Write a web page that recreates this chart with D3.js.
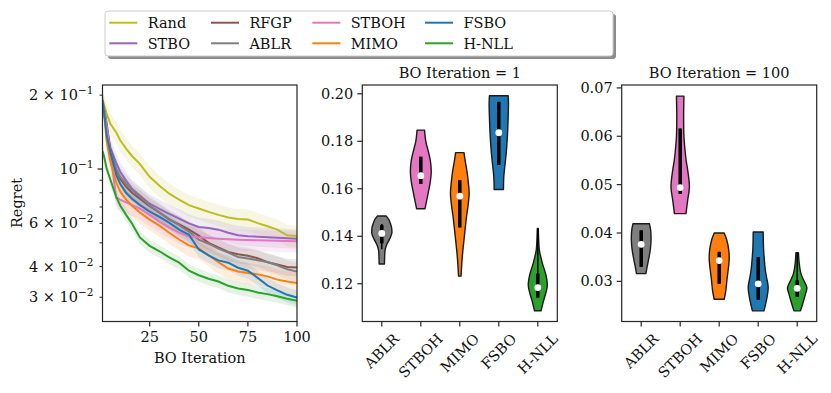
<!DOCTYPE html>
<html><head><meta charset="utf-8">
<script src="https://cdn.jsdelivr.net/npm/d3@7"></script>
<style>
body{margin:0;background:#fff}
svg text{font-family:"DejaVu Serif",serif;fill:#111}
</style></head>
<body><svg id="c" width="831" height="393"></svg>
<script>
// ---------------- DATA ----------------
const methods = ["Rand","STBO","RFGP","ABLR","STBOH","MIMO","FSBO","H-NLL"];
const colors  = ["#bcbd22","#9467bd","#8c564b","#7f7f7f","#e377c2","#ff7f0e","#1f77b4","#2ca02c"];
const iters = [1,2,3,5,8,10,13,16,20,25,30,35,40,45,50,55,60,65,70,75,80,85,90,95,100];
const regretRand  = [0.19,0.18,0.169,0.153,0.141,0.131,0.121,0.113,0.105,0.093,0.0855,0.0793,0.075,0.0712,0.069,0.0669,0.065,0.0634,0.0625,0.0622,0.0602,0.0584,0.0566,0.0537,0.0533];
const regretSTBO  = [0.19,0.165,0.1445,0.122,0.106,0.0975,0.0897,0.083,0.078,0.0722,0.0688,0.0656,0.0628,0.06,0.058,0.0575,0.0566,0.055,0.0537,0.0532,0.053,0.0527,0.0525,0.0522,0.052];
const regretRFGP  = [0.19,0.172,0.155,0.12,0.099,0.0913,0.0847,0.08,0.0757,0.0706,0.0665,0.0622,0.0594,0.0566,0.0535,0.05,0.0479,0.0459,0.0449,0.0443,0.0433,0.0417,0.0408,0.0399,0.0397];
const regretABLR  = [0.19,0.17,0.15,0.118,0.1,0.093,0.087,0.082,0.077,0.071,0.0665,0.0625,0.059,0.0555,0.0515,0.0496,0.0474,0.0456,0.0438,0.0432,0.0425,0.0418,0.0405,0.039,0.0382];
const regretSTBOH = [0.19,0.17,0.15,0.115,0.0765,0.075,0.0731,0.0714,0.069,0.065,0.061,0.0577,0.055,0.0532,0.0527,0.0523,0.052,0.0517,0.0515,0.0513,0.0512,0.0511,0.051,0.0509,0.0508];
const regretMIMO  = [0.19,0.165,0.1315,0.107,0.088,0.081,0.075,0.0708,0.0665,0.0622,0.0588,0.055,0.0516,0.0488,0.0475,0.0445,0.0417,0.0393,0.0382,0.0377,0.0372,0.0365,0.0354,0.0348,0.0343];
const regretFSBO  = [0.19,0.166,0.139,0.117,0.0947,0.0871,0.08,0.0757,0.0713,0.0671,0.0638,0.0604,0.0566,0.054,0.047,0.0445,0.0424,0.0415,0.0396,0.0385,0.036,0.0335,0.032,0.0307,0.0299];
const regretHNLL  = [0.118,0.111,0.1012,0.0905,0.077,0.071,0.065,0.06,0.0526,0.0486,0.0462,0.0436,0.0415,0.0385,0.0369,0.0357,0.0348,0.0334,0.0326,0.0321,0.0314,0.0309,0.0303,0.0296,0.029];
const regretSeries = [regretRand,regretSTBO,regretRFGP,regretABLR,regretSTBOH,regretMIMO,regretFSBO,regretHNLL];
const bandSpread = [0.10,0.09,0.08,0.09,0.10,0.10,0.07,0.06];

const violinMethods = ["ABLR","STBOH","MIMO","FSBO","H-NLL"];
const violinColors  = ["#7f7f7f","#e377c2","#ff7f0e","#1f77b4","#2ca02c"];
// violin profiles: [regret value, relative density]
const violinIter1 = [
  [[0.1485,0.29],[0.147,0.45],[0.1454,0.55],[0.1435,0.63],[0.1412,0.64],[0.139,0.51],[0.1365,0.32],[0.1342,0.21],[0.131,0.18],[0.1283,0.17]],
  [[0.1847,0.24],[0.18,0.32],[0.1763,0.46],[0.172,0.61],[0.1672,0.67],[0.163,0.61],[0.1594,0.51],[0.1552,0.38],[0.1516,0.27]],
  [[0.1752,0.27],[0.1715,0.35],[0.1678,0.45],[0.163,0.54],[0.158,0.6],[0.153,0.53],[0.1482,0.43],[0.1398,0.29],[0.1314,0.16],[0.1232,0.08]],
  [[0.1992,0.6],[0.196,0.62],[0.19,0.6],[0.1833,0.56],[0.177,0.5],[0.172,0.43],[0.165,0.32],[0.1597,0.3]],
  [[0.1433,0.03],[0.138,0.06],[0.1342,0.1],[0.1285,0.3],[0.124,0.51],[0.1194,0.61],[0.116,0.51],[0.1131,0.38],[0.1086,0.21]]
];
const violinIter100 = [
  [[0.0419,0.53],[0.0405,0.61],[0.0385,0.63],[0.0365,0.58],[0.0343,0.46],[0.033,0.38],[0.0316,0.3]],
  [[0.0683,0.24],[0.064,0.22],[0.06,0.24],[0.0571,0.31],[0.055,0.38],[0.053,0.48],[0.0495,0.59],[0.0468,0.48],[0.044,0.37]],
  [[0.04,0.32],[0.0386,0.48],[0.0365,0.61],[0.0345,0.64],[0.0325,0.58],[0.0304,0.5],[0.028,0.42],[0.0263,0.32]],
  [[0.0402,0.32],[0.037,0.34],[0.035,0.38],[0.0325,0.45],[0.0309,0.53],[0.0288,0.64],[0.0261,0.53],[0.0239,0.37]],
  [[0.0359,0.08],[0.0337,0.13],[0.0316,0.24],[0.0302,0.42],[0.0287,0.62],[0.0275,0.54],[0.0261,0.42],[0.0239,0.21]]
];
// box stats: [whiskerLow, q1, median, q3, whiskerHigh]
const statsIter1 = [
  [0.1345,0.137,0.1412,0.1447,0.1452],
  [0.162,0.162,0.1655,0.1735,0.1735],
  [0.1437,0.1437,0.1569,0.1636,0.1636],
  [0.170,0.170,0.1836,0.1966,0.1966],
  [0.1142,0.1142,0.1184,0.1243,0.1433]
];
const statsIter100 = [
  [0.033,0.033,0.03765,0.04055,0.04055],
  [0.0481,0.0481,0.0494,0.0616,0.0616],
  [0.0295,0.0295,0.0343,0.0361,0.0361],
  [0.0262,0.0262,0.0295,0.035,0.035],
  [0.0268,0.0268,0.02855,0.0302,0.0359]
];
const leftXTicks = [25,50,75,100];
const leftYTicksMajor = [0.1];
const leftYTicksMinor = [0.03,0.04,0.05,0.06,0.07,0.08,0.09,0.2];
const leftYLabels = [[0.2,"2 × 10","−1"],[0.1,"10","−1"],[0.06,"6 × 10","−2"],[0.04,"4 × 10","−2"],[0.03,"3 × 10","−2"]];
const midYTicks = [0.12,0.14,0.16,0.18,0.20];
const rightYTicks = [0.03,0.04,0.05,0.06,0.07];

// ---------------- LAYOUT ----------------
const svg = d3.select("#c");
const yTop = 85, yBot = 321.5;
const FS = 14.5;

const xL = d3.scaleLinear([1,100],[102.5,297]);
const yL = d3.scaleLog([0.0239,0.22],[yBot,yTop]);
const xM = d3.scaleLinear([0.5,5.5],[362.3,557.3]);
const yM = d3.scaleLinear([0.1041,0.2037],[yBot,yTop]);
const xR = d3.scaleLinear([0.5,5.5],[621.7,816.7]);
const yR = d3.scaleLinear([0.0217,0.0706],[yBot,yTop]);

// ---------------- LEFT PANEL ----------------
const gL = svg.append("g");
gL.append("clipPath").attr("id","clipL").append("rect")
  .attr("x",xL.range()[0]).attr("y",yTop).attr("width",xL.range()[1]-xL.range()[0]).attr("height",yBot-yTop);
const plotL = gL.append("g").attr("clip-path","url(#clipL)");
regretSeries.forEach((s,k)=>{
  const pts = iters.map((it,i)=>({x:it,v:s[i]}));
  const area = d3.area().x(d=>xL(d.x)).y0(d=>yL(d.v*(1-bandSpread[k]))).y1(d=>yL(d.v*(1+bandSpread[k])));
  plotL.append("path").attr("d",area(pts)).attr("fill",colors[k]).attr("opacity",0.13);
});
regretSeries.forEach((s,k)=>{
  const pts = iters.map((it,i)=>({x:it,v:s[i]}));
  const line = d3.line().x(d=>xL(d.x)).y(d=>yL(d.v));
  plotL.append("path").attr("d",line(pts)).attr("fill","none").attr("stroke",colors[k]).attr("stroke-width",2);
});
const axisColor = "#262626";
function frame(g,x0,x1){
  g.append("rect").attr("x",x0).attr("y",yTop).attr("width",x1-x0).attr("height",yBot-yTop)
   .attr("fill","none").attr("stroke",axisColor).attr("stroke-width",1.2);
}
frame(gL,xL.range()[0],xL.range()[1]);
leftXTicks.forEach(t=>{
  gL.append("line").attr("x1",xL(t)).attr("x2",xL(t)).attr("y1",yBot).attr("y2",yBot+5).attr("stroke",axisColor).attr("stroke-width",1.2);
  gL.append("text").attr("x",xL(t)).attr("y",yBot+20).attr("text-anchor","middle").attr("font-size",FS).text(t);
});
leftYTicksMajor.forEach(t=>{
  gL.append("line").attr("x1",xL.range()[0]-5).attr("x2",xL.range()[0]).attr("y1",yL(t)).attr("y2",yL(t)).attr("stroke",axisColor).attr("stroke-width",1.2);
});
leftYTicksMinor.forEach(t=>{
  gL.append("line").attr("x1",xL.range()[0]-3).attr("x2",xL.range()[0]).attr("y1",yL(t)).attr("y2",yL(t)).attr("stroke",axisColor).attr("stroke-width",1);
});
leftYLabels.forEach(([v,base,sup])=>{
  const t = gL.append("text").attr("x",xL.range()[0]-9).attr("y",yL(v)+5).attr("text-anchor","end").attr("font-size",FS);
  t.append("tspan").text(base);
  t.append("tspan").attr("font-size",10.5).attr("dy",-6).text(sup);
});
gL.append("text").attr("x",(xL.range()[0]+xL.range()[1])/2).attr("y",363).attr("text-anchor","middle").attr("font-size",FS).text("BO Iteration");
gL.append("text").attr("transform","translate(22,203) rotate(-90)").attr("text-anchor","middle").attr("font-size",FS).text("Regret");

// ---------------- VIOLIN PANELS ----------------
function violinPanel(xS,yS,profiles,stats,ticks,title){
  const g = svg.append("g");
  const unit = xS(1)-xS(0);
  profiles.forEach((prof,i)=>{
    const cx = xS(i+1);
    const area = d3.area().curve(d3.curveCatmullRom.alpha(0.5))
      .y(d=>yS(d[0])).x0(d=>cx-d[1]*0.4*unit).x1(d=>cx+d[1]*0.4*unit);
    g.append("path").attr("d",area(prof)).attr("fill",violinColors[i])
      .attr("stroke","#1a1a1a").attr("stroke-width",1.4).attr("stroke-linejoin","round");
    const [wl,q1,med,q3,wh] = stats[i];
    g.append("line").attr("x1",cx).attr("x2",cx).attr("y1",yS(wl)).attr("y2",yS(wh)).attr("stroke","#000").attr("stroke-width",1.5);
    g.append("line").attr("x1",cx).attr("x2",cx).attr("y1",yS(q1)).attr("y2",yS(q3)).attr("stroke","#000").attr("stroke-width",3.5);
    g.append("circle").attr("cx",cx).attr("cy",yS(med)).attr("r",3.4).attr("fill","#fff");
  });
  frame(g,xS.range()[0],xS.range()[1]);
  ticks.forEach(t=>{
    g.append("line").attr("x1",xS.range()[0]-5).attr("x2",xS.range()[0]).attr("y1",yS(t)).attr("y2",yS(t)).attr("stroke",axisColor).attr("stroke-width",1.2);
    g.append("text").attr("x",xS.range()[0]-9).attr("y",yS(t)+5).attr("text-anchor","end").attr("font-size",FS).text(d3.format(".2f")(t));
  });
  violinMethods.forEach((m,i)=>{
    const cx = xS(i+1);
    g.append("line").attr("x1",cx).attr("x2",cx).attr("y1",yBot).attr("y2",yBot+5).attr("stroke",axisColor).attr("stroke-width",1.2);
    const t = g.append("text").attr("font-size",FS).attr("text-anchor","middle").attr("dominant-baseline","central").text(m);
    const w = t.node().getComputedTextLength();
    const side = (w + FS*0.73)/Math.SQRT2;
    t.attr("transform",`translate(${cx},${yBot+11+side/2}) rotate(-45)`);
  });
  g.append("text").attr("x",(xS.range()[0]+xS.range()[1])/2).attr("y",77.5).attr("text-anchor","middle").attr("font-size",FS).text(title);
}
violinPanel(xM,yM,violinIter1,statsIter1,midYTicks,"BO Iteration = 1");
violinPanel(xR,yR,violinIter100,statsIter100,rightYTicks,"BO Iteration = 100");

// ---------------- LEGEND ----------------
const gLeg = svg.append("g");
gLeg.append("rect").attr("x",108).attr("y",14).attr("width",508).attr("height",45).attr("rx",3).attr("fill","#8c8c8c");
gLeg.append("rect").attr("x",105).attr("y",11).attr("width",508).attr("height",45).attr("rx",3).attr("fill","#fff").attr("stroke","#cccccc").attr("stroke-width",1);
const colX = [109.3,211,312.3,425,526.7];
const rowY = [22.7,43.3];
methods.forEach((m,k)=>{
  const col = Math.floor(k/2), row = k%2;
  const x = colX[col], y = rowY[row];
  gLeg.append("line").attr("x1",x).attr("x2",x+28).attr("y1",y).attr("y2",y).attr("stroke",colors[k]).attr("stroke-width",2);
  gLeg.append("text").attr("x",x+38.4).attr("y",y+5.2).attr("font-size",FS).text(m);
});
</script></body></html>
